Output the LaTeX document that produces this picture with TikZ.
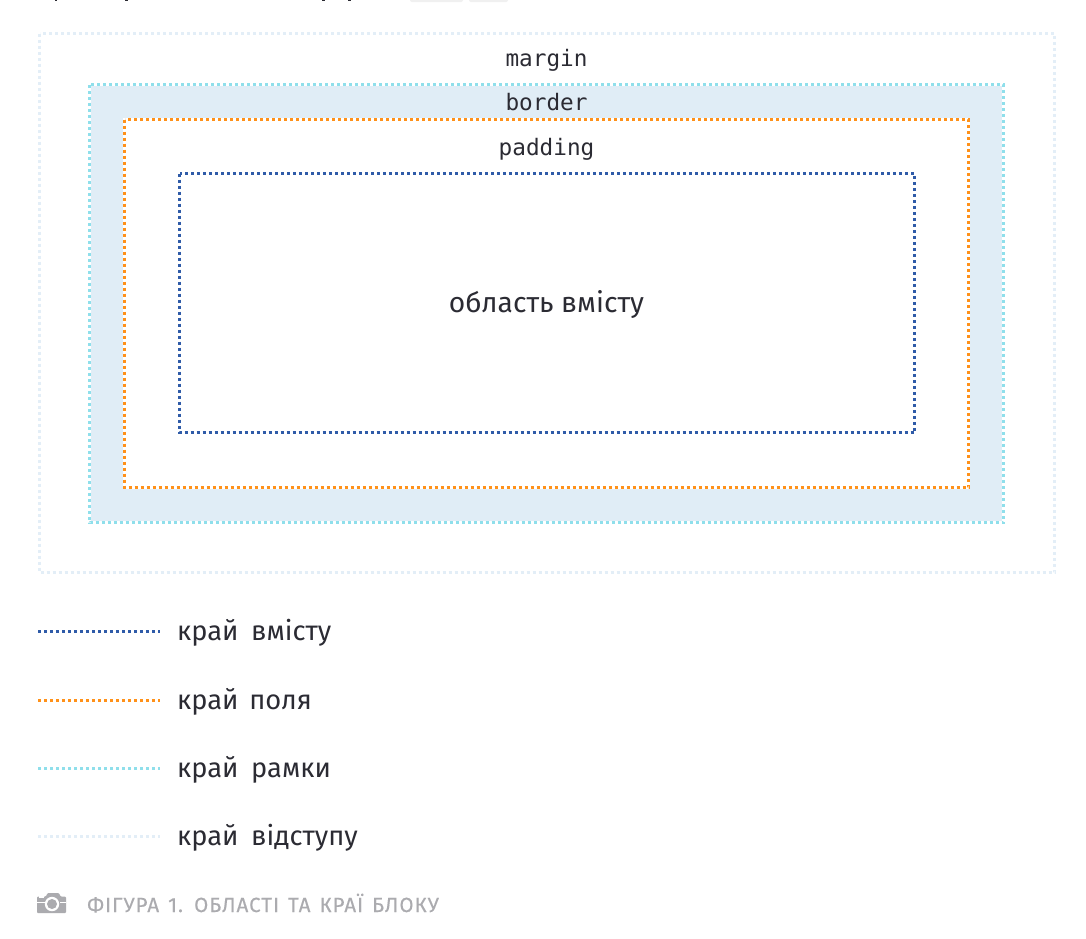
\documentclass[tikz,border=0pt]{standalone}
\usepackage{fontspec}
\setmainfont{Fira Sans}
\setmonofont{DejaVu Sans Mono}
\newfontfamily\capfont[LetterSpace=5,WordSpace=1.4,FakeBold=0.25]{Fira Sans}
\definecolor{cblue}{HTML}{2F5BA8}
\definecolor{corange}{HTML}{FF9119}
\definecolor{ccyan}{HTML}{8FDFEB}
\definecolor{cpale}{HTML}{E3EEF7}
\definecolor{cfill}{HTML}{E0EDF6}
\definecolor{ctext}{HTML}{2B2B33}
\definecolor{ccap}{HTML}{ABABAF}
\definecolor{ccode}{HTML}{F0F0F0}
\tikzset{
 x=1pt,y=-1pt,
 dotline/.style={line width=3pt,dash pattern=on 3pt off 3pt},
 codetext/.style={font=\fontsize{22.7}{26}\selectfont\ttfamily,text=ctext,inner sep=0pt,anchor=base},
 legendtext/.style={font=\fontsize{27.3}{32}\selectfont,text=ctext,inner sep=0pt,anchor=base west},
}
\begin{document}
\begin{tikzpicture}
\useasboundingbox[fill=white] (0,0) rectangle (1086,938);
% remains of the text above the figure
\fill[ccode,rounded corners=2pt] (410,-6) rectangle (463,2);
\fill[ccode,rounded corners=2pt] (469,-6) rectangle (508,2);
\fill[ctext] (54.5,0) rectangle (57,1);
\fill[ctext] (125,0) rectangle (128,1);
\fill[ctext] (322,0) rectangle (325,1);
\fill[ctext] (348,0) rectangle (351,1);
% areas
\fill[cfill] (91,86) rectangle (1002,521);
\fill[white] (123,118) rectangle (970,489);
% edges
\draw[dotline,cpale] (39.5,33.5) rectangle (1054.5,572.5);
\draw[dotline,ccyan] (89.5,84.5) rectangle (1003.5,522.5);
\draw[dotline,corange] (124.5,119.5) rectangle (968.5,487.5);
\draw[dotline,cblue] (179.5,173.5) rectangle (914.5,432.5);
% labels
\node[codetext] (mg) at (546.5,66) {margin};
\node[codetext] (bd) at (546.5,110) {border};
\node[codetext] (pd) at (546.5,155) {padding};
\node[inner sep=0pt,anchor=base,text=ctext,font=\fontsize{28.2}{32}\selectfont] (ct) at (546.5,312) {область вмісту};
% legend
\coordinate (a1) at (38,631.5); \coordinate (a2) at (160,631.5);
\coordinate (b1) at (38,700.5); \coordinate (b2) at (160,700.5);
\coordinate (c1) at (38,768.5); \coordinate (c2) at (160,768.5);
\coordinate (d1) at (38,836.5); \coordinate (d2) at (160,836.5);
\draw[dotline,cblue] (a1) -- (a2);
\draw[dotline,corange] (b1) -- (b2);
\draw[dotline,ccyan] (c1) -- (c2);
\draw[dotline,cpale] (d1) -- (d2);
\node[legendtext] (la) at (177,640) {край\hspace{.2em} вмісту};
\node[legendtext] (lb) at (177,709) {край\hspace{.13em} поля};
\node[legendtext] (lc) at (177,777) {край\hspace{.2em} рамки};
\node[legendtext] (ld) at (177,845) {край\hspace{.2em} відступу};
% caption
\fill[ccap,rounded corners=1pt] (37,896.5) -- (46,896.5) -- (47.5,893) -- (59,893) -- (60.5,896.5) -- (66,896.5) -- (66,913) -- (37,913) -- cycle;
\fill[white] (37,901.5) rectangle (44.5,902.5);
\fill[white] (59.5,901.5) rectangle (66,902.5);
\fill[white] (39,895.5) rectangle (44,897.5);
\fill[white] (52,904) circle (7.2);
\fill[ccap] (52,904) circle (5);
\node[inner sep=0pt,anchor=base west,text=ccap,font=\fontsize{20.5}{24}\selectfont\capfont] (cap) at (87,912) {ФІГУРА 1. ОБЛАСТІ ТА КРАЇ БЛОКУ};
\end{tikzpicture}
\end{document}
